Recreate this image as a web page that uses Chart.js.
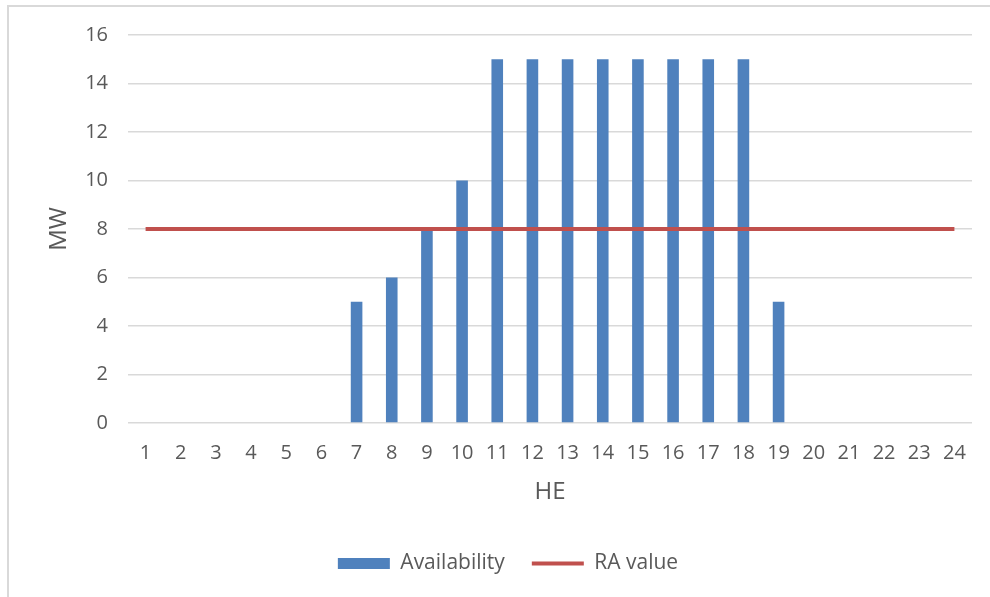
<!DOCTYPE html>
<html>
<head>
<meta charset="utf-8">
<script src="https://cdn.jsdelivr.net/npm/chart.js@4"></script>
<style>
  html, body { margin: 0; padding: 0; background: #fff; }
  body { width: 990px; height: 597px; position: relative; overflow: hidden; }
  /* light frame, only top and left visible (cropped picture) */
  #frame { position: absolute; left: 7px; top: 5px; width: 1000px; height: 620px;
           border-top: 2px solid #d9d9d9; border-left: 2px solid #d9d9d9; }
  #chart { position: absolute; left: 0; top: 0; }
</style>
</head>
<body>
<div id="frame"></div>
<canvas id="chart" width="990" height="597"></canvas>
<script>
// chart data
const hours = ['1', '2', '3', '4', '5', '6', '7', '8', '9', '10', '11', '12',
  '13', '14', '15', '16', '17', '18', '19', '20', '21', '22', '23', '24'];
const availability = [0, 0, 0, 0, 0, 0, 5, 6, 8, 10, 15, 15, 15, 15, 15, 15, 15, 15, 5, 0, 0, 0, 0, 0];
const raValue = [8, 8, 8, 8, 8, 8, 8, 8, 8, 8, 8, 8, 8, 8, 8, 8, 8, 8, 8, 8, 8, 8, 8, 8];
const yTicks = [0, 2, 4, 6, 8, 10, 12, 14, 16];

const textColor = '#595959';
const fontFamily = '"Open Sans", Lato, sans-serif';

const ctx = document.getElementById('chart').getContext('2d');

new Chart(ctx, {
  type: 'bar',
  data: {
    labels: hours,
    datasets: [
      {
        label: 'Availability',
        data: availability,
        backgroundColor: '#4f81bd',
        barPercentage: 0.33,
        categoryPercentage: 1,
        pointStyle: 'rect',
        order: 1,
      },
      {
        type: 'line',
        label: 'RA value',
        data: raValue,
        borderColor: '#c0504d',
        backgroundColor: '#c0504d',
        borderWidth: 4,
        pointRadius: 0,
        pointStyle: 'line',
        fill: false,
        order: 0,
      },
    ],
  },
  options: {
    responsive: false,
    animation: false,
    devicePixelRatio: 1,
    layout: {
      // left padding pushes the legend a bit right, like the original
      padding: { left: 44, right: 18, top: 35, bottom: 13 },
    },
    plugins: {
      tooltip: { enabled: false },
      legend: {
        position: 'bottom',
        labels: {
          usePointStyle: true,
          pointStyleWidth: 52,
          boxWidth: 52,
          boxHeight: 11,
          padding: 27,
          color: textColor,
          font: { family: fontFamily, size: 21 },
          sort: (a, b) => a.datasetIndex - b.datasetIndex,
        },
      },
    },
    scales: {
      x: {
        grid: { display: false },
        border: { display: false },
        ticks: {
          color: textColor,
          padding: 10,
          autoSkip: false,
          maxRotation: 0,
          font: { family: fontFamily, size: 20 },
        },
        title: {
          display: true,
          text: 'HE',
          color: textColor,
          font: { family: fontFamily, size: 24 },
          padding: { top: 0, bottom: 19 },
        },
        afterFit: (scale) => { scale.height = 103; },
      },
      y: {
        min: 0,
        max: 16,
        afterBuildTicks: (scale) => { scale.ticks = yTicks.map((v) => ({ value: v })); },
        grid: { color: '#d9d9d9', lineWidth: 1.5, drawTicks: false },
        border: { display: false },
        ticks: {
          color: textColor,
          padding: 20,
          font: { family: fontFamily, size: 20 },
        },
        title: {
          display: true,
          text: 'MW',
          color: textColor,
          font: { family: fontFamily, size: 24 },
          padding: { top: 1, bottom: 0 },
        },
        afterFit: (scale) => { scale.width = 84; },
      },
    },
  },
});
</script>
</body>
</html>
